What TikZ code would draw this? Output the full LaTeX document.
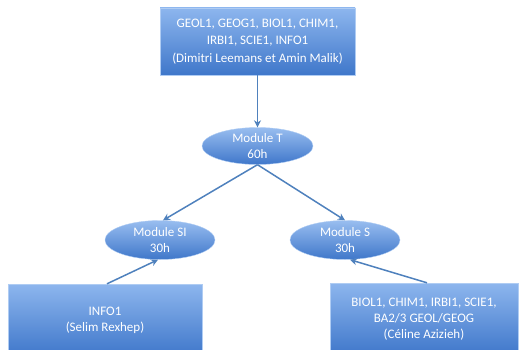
\documentclass[tikz,border=0pt]{standalone}
\usepackage{fontspec}
\setmainfont{Carlito}
\usetikzlibrary{shapes.geometric,arrows.meta}
\definecolor{boxtop}{HTML}{8DB6EE}
\definecolor{boxbot}{HTML}{3F77CA}
\definecolor{edge}{HTML}{4F81BD}

\begin{document}
\begin{tikzpicture}[x=1pt,y=-1pt,
  course/.style={draw=boxtop!70!white, top color=boxtop, bottom color=boxbot,
    text=white, align=center, font=\fontsize{13}{17.5}\selectfont, inner sep=0pt},
  module/.style={ellipse, draw=boxtop!70!white, top color=boxtop!90!white, bottom color=boxbot,
    text=white, align=center, font=\fontsize{13}{15.5}\selectfont, inner sep=0pt},
  link/.style={draw=edge, line width=1.5pt, -{Stealth[length=7pt,width=7pt]}}]
  \useasboundingbox (0,0) rectangle (519,350);
  \clip (0,0) rectangle (519,350);
  \node[course, minimum width=195pt, minimum height=67pt] (all) at (257.5,41.5)
    {GEOL1, GEOG1, BIOL1, CHIM1,\\IRBI1, SCIE1, INFO1\\(Dimitri Leemans et Amin Malik)};
  \node[module, minimum width=111pt, minimum height=37pt] (modT) at (257.5,146) {Module T\\60h};
  \node[module, minimum width=110pt, minimum height=39pt] (modSI) at (160,240) {Module SI\\30h};
  \node[module, minimum width=110pt, minimum height=39pt] (modS) at (345,240) {Module S\\30h};
  \node[course, minimum width=194pt, minimum height=72pt, font=\fontsize{13}{16}\selectfont] (info) at (105,320)
    {INFO1\\(Selim Rexhep)};
  \node[course, minimum width=188pt, minimum height=72pt, font=\fontsize{13}{16}\selectfont] (sci) at (424,319)
    {BIOL1, CHIM1, IRBI1, SCIE1,\\BA2/3 GEOL/GEOG\\(Céline Azizieh)};
  % connectors
  \draw[link] (all.south) -- (modT.north);
  \draw[link] (modT.south) -- ([xshift=3pt]modSI.north);
  \draw[link] (modT.south) -- (modS.north);
  \draw[link] ([xshift=2pt]info.north) -- ([xshift=-2pt]modSI.south);
  \draw[link] ([xshift=3pt]sci.north) -- ([xshift=5pt]modS.south);
\end{tikzpicture}
\end{document}
